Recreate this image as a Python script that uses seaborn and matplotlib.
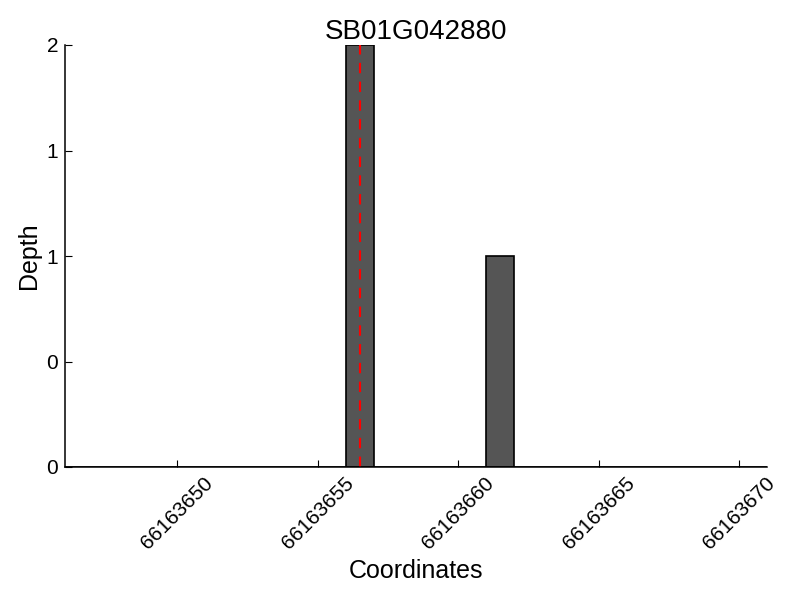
import numpy as np
import matplotlib
matplotlib.use("Agg")
import matplotlib.pyplot as plt
import seaborn as sns

# Depth per coordinate
positions = [66163656, 66163661]
depths = [2, 1]
marker_pos = 66163656.5
gene = "SB01G042880"

x_ticks = [66163650, 66163655, 66163660, 66163665, 66163670]
y_ticks = [0, 0.5, 1, 1.5, 2]
y_tick_labels = ["0", "0", "1", "1", "2"]

sns.set_style("ticks")
plt.rcParams["font.family"] = ["Liberation Sans", "DejaVu Sans"]
plt.rcParams["text.color"] = "black"
plt.rcParams["axes.labelcolor"] = "black"
plt.rcParams["xtick.color"] = "black"
plt.rcParams["ytick.color"] = "black"

fig, ax = plt.subplots(figsize=(8, 6), dpi=100)
fig.subplots_adjust(left=65 / 800, right=767 / 800, top=1 - 45 / 600, bottom=1 - 467 / 600)

sns.histplot(x=positions, weights=depths, binwidth=1, binrange=(66163646, 66163671),
             color="#555555", edgecolor="black", linewidth=1.2, alpha=1, ax=ax)
ax.axvline(marker_pos, ymin=0, ymax=1, color="red", linestyle="--", linewidth=1.5, dashes=(5, 4))

ax.set_xlim(66163646, 66163671)
ax.set_ylim(0, 2)
ax.set_xticks(x_ticks)
ax.set_xticklabels([str(t) for t in x_ticks], rotation=45, fontsize=15)
ax.set_yticks(y_ticks)
ax.set_yticklabels(y_tick_labels, fontsize=15)
ax.tick_params(direction="in", length=5, width=0.8, pad=5)

ax.set_title(gene, fontsize=20, pad=4)
ax.set_xlabel("Coordinates", fontsize=18)
ax.set_ylabel("Depth", fontsize=18)
sns.despine(ax=ax)
for s in ["left", "bottom"]:
    ax.spines[s].set_linewidth(1.1)
    ax.spines[s].set_color("black")

plt.savefig("out.png")
